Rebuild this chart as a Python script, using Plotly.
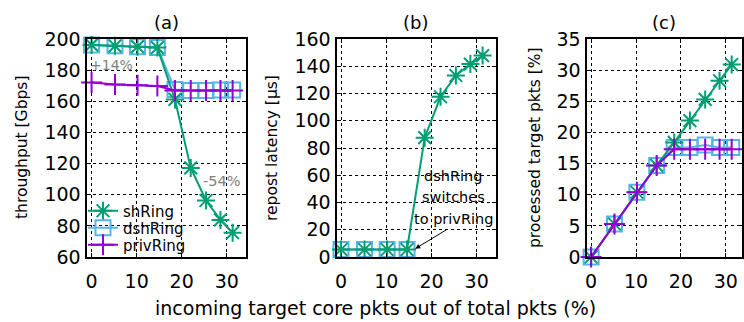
import plotly.graph_objects as go

# Incoming target-core packet share (%) for each measurement
incoming = [0, 5.2, 10.2, 14.6, 18.5, 22.0, 25.4, 28.6, 31.3]

# (a) throughput [Gbps]
thr_sh = [196.2, 195.6, 195.1, 194.5, 161.2, 117.2, 96.3, 83.8, 75.6]
thr_dsh = [196.2, 195.6, 195.1, 194.5, 167.5, 167.0, 167.0, 167.2, 167.2]
thr_priv = [172.0, 170.7, 170.3, 169.8, 167.0, 167.0, 167.0, 167.0, 167.0]

# (b) repost latency [us]; dshRing only reposts before switching
lat_sh = [5.5, 5.5, 5.5, 5.5, 87.6, 117.6, 133.2, 141.6, 147.8]
lat_dsh = [5.5, 5.5, 5.5, 5.5]

# (c) processed target pkts [%]
proc_sh = [0, 5.3, 10.4, 14.7, 18.4, 21.9, 25.3, 28.3, 30.9]
proc_dsh = [0, 5.3, 10.4, 14.7, 17.6, 17.6, 18.0, 17.6, 17.6]
proc_priv = [0, 5.3, 10.4, 14.7, 17.3, 17.3, 17.3, 17.3, 17.3]

x_ticks = [0, 10, 20, 30]
thr_ticks = [60, 80, 100, 120, 140, 160, 180, 200]
lat_ticks = [0, 20, 40, 60, 80, 100, 120, 140, 160]
proc_ticks = [0, 5, 10, 15, 20, 25, 30, 35]

GREEN = "#009e73"
BLUE = "#56b4e9"
PURPLE = "#9400d3"
FONT = "DejaVu Sans, Verdana, sans-serif"

W, H = 744, 322

styles = {
    "shRing": dict(color=GREEN, symbol="asterisk-open", size=15, legend="legend"),
    "dshRing": dict(color=BLUE, symbol="square-open", size=15, legend="legend2"),
    "privRing": dict(color=PURPLE, symbol="cross-thin-open", size=15, legend="legend3"),
}


def trace(name, xs, ys, axis, show):
    s = styles[name]
    return go.Scatter(
        x=xs, y=ys, name=name, mode="lines+markers",
        xaxis="x" + axis, yaxis="y" + axis,
        line=dict(color=s["color"], width=2),
        marker=dict(symbol=s["symbol"], size=s["size"], color=s["color"],
                    line=dict(color=s["color"], width=2)),
        cliponaxis=False, showlegend=show, legend=s["legend"],
    )


fig = go.Figure()
# drawing order: dshRing underneath, privRing on top
fig.add_trace(trace("dshRing", incoming, thr_dsh, "", True))
fig.add_trace(trace("shRing", incoming, thr_sh, "", True))
fig.add_trace(trace("privRing", incoming, thr_priv, "", True))
fig.add_trace(trace("dshRing", incoming[:len(lat_dsh)], lat_dsh, "2", False))
fig.add_trace(trace("shRing", incoming, lat_sh, "2", False))
fig.add_trace(trace("dshRing", incoming, proc_dsh, "3", False))
fig.add_trace(trace("shRing", incoming, proc_sh, "3", False))
fig.add_trace(trace("privRing", incoming, proc_priv, "3", False))

ydom = [1 - 257 / H, 1 - 39 / H]
TICKFONT = dict(size=19, color="black", family=FONT)


def xaxis(dom, rng, anchor):
    return dict(domain=dom, range=rng, anchor=anchor, tickvals=x_ticks,
                showgrid=True, gridcolor="black", griddash="dot", gridwidth=1,
                zeroline=False, showline=True, linecolor="black", linewidth=1.6,
                mirror="allticks", ticks="inside", ticklen=4, tickcolor="black",
                tickfont=TICKFONT, ticklabelstandoff=6, automargin=False)


def yaxis(rng, tv, anchor):
    return dict(domain=ydom, range=rng, anchor=anchor, tickvals=tv,
                showgrid=True, gridcolor="black", griddash="dot", gridwidth=1,
                zeroline=False, showline=True, linecolor="black", linewidth=1.6,
                mirror="allticks", ticks="inside", ticklen=4, tickcolor="black",
                tickfont=TICKFONT, ticklabelstandoff=1, automargin=False)


def legend(row_y):
    return dict(x=83 / W, y=1 - row_y / H, xanchor="left", yanchor="middle",
                bgcolor="rgba(0,0,0,0)", font=dict(size=15, family=FONT),
                itemwidth=30)


fig.update_layout(
    width=W, height=H,
    margin=dict(l=0, r=0, t=0, b=0, pad=0, autoexpand=False),
    paper_bgcolor="white", plot_bgcolor="white",
    font=dict(family=FONT, color="black"),
    xaxis=xaxis([87.3 / W, 245.7 / W], [-0.95, 34.2], "y"),
    xaxis2=xaxis([337.3 / W, 495.7 / W], [-0.82, 34.2], "y2"),
    xaxis3=xaxis([587.3 / W, 742 / W], [-0.85, 33.6], "y3"),
    yaxis=yaxis([60, 200], thr_ticks, "x"),
    yaxis2=yaxis([0, 160], lat_ticks, "x2"),
    yaxis3=yaxis([0, 35], proc_ticks, "x3"),
    legend=legend(211),
    legend2=legend(228),
    legend3=legend(245),
    showlegend=True,
)

ann = []


def paper_text(text, px, py, size, angle=0):
    return dict(text=text, x=px / W, y=1 - py / H, xref="paper", yref="paper",
                xanchor="center", yanchor="middle", textangle=angle,
                showarrow=False, font=dict(size=size))


# panel labels
for lbl, cx in [("(a)", 166), ("(b)", 416), ("(c)", 664)]:
    ann.append(paper_text(lbl, cx, 22, 18))
# y-axis titles
for lbl, cx in [("throughput [Gbps]", 22), ("repost latency [µs]", 272),
                ("processed target pkts [%]", 535)]:
    ann.append(paper_text(lbl, cx, 148, 15.5, -90))
# shared x-axis title
ann.append(paper_text("incoming target core pkts out of total pkts (%)", 375, 308, 19))
# percentage notes in (a)
ann.append(dict(text="+14%", x=4.4, y=183.2, xref="x", yref="y",
                showarrow=False, font=dict(size=14, color="#808080")))
ann.append(dict(text="-54%", x=28.9, y=109, xref="x", yref="y",
                showarrow=False, font=dict(size=14.5, color="#808080")))
# switch note in (b), one annotation per line
for line, ly in [("dshRing", 59.6), ("switches", 43.7), ("to privRing", 27.6)]:
    ann.append(dict(text=line, x=24.8, y=ly, xref="x2", yref="y2",
                    showarrow=False, font=dict(size=14.5)))
ann.append(dict(text="", x=16.4, y=6.1, xref="x2", yref="y2", showarrow=True,
                ax=33, ay=-20, arrowhead=2, arrowsize=1, arrowwidth=1,
                arrowcolor="black"))
fig.update_layout(annotations=ann)

fig.write_html("out.html")
